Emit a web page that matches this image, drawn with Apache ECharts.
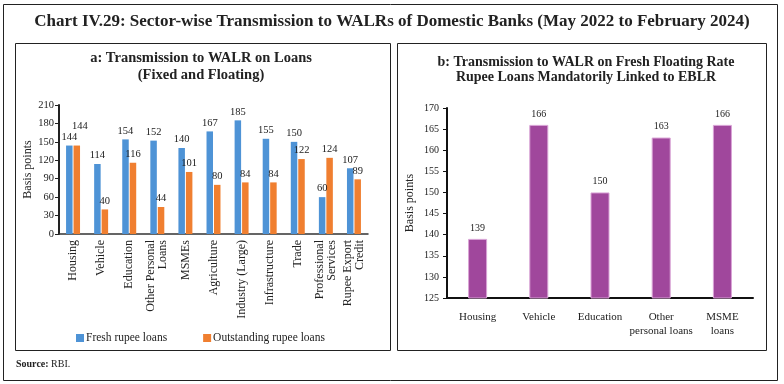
<!DOCTYPE html>
<html>
<head>
<meta charset="utf-8">
<script src="https://cdn.jsdelivr.net/npm/echarts@6/dist/echarts.min.js"></script>
<style>
html,body{margin:0;padding:0;background:#fff;}
#c{width:784px;height:384px;}
</style>
</head>
<body>
<div id="c"></div>
<script>
// ---- Data ----
const catsA = ['Housing','Vehicle','Education','Other Personal\nLoans','MSMEs','Agriculture','Industry (Large)','Infrastructure','Trade','Professional\nServices','Rupee Export\nCredit'];
const freshLoans = [144,114,154,152,140,167,185,155,150,60,107];
const outstandingLoans = [144,40,116,44,101,80,84,84,122,124,89];
const catsB = ['Housing','Vehicle','Education','Other\npersonal loans','MSME\nloans'];
const eblrLoans = [139,166,150,163,166];
const axisA = {min:0, max:210, interval:30};
const axisB = {min:125, max:170, interval:5};

const SERIF = '"Liberation Serif", "DejaVu Serif", serif';
const chart = echarts.init(document.getElementById('c'));
const txt = '#222';

// orange Housing label is lifted in the original to avoid overlapping the blue one
const outstandingData = outstandingLoans.map((v, i) => i === 0 ? {value: v, label: {offset: [3, -11]}} : v);

chart.setOption({
  backgroundColor:'#fff',
  animation:false,
  textStyle:{fontFamily:SERIF},
  graphic:[
    {type:'rect', shape:{x:3.5,y:4.5,width:774,height:376}, style:{fill:'none',stroke:'#222',lineWidth:1}},
    {type:'rect', shape:{x:15.5,y:43.5,width:375,height:307}, style:{fill:'none',stroke:'#222',lineWidth:1}},
    {type:'rect', shape:{x:397.5,y:43.5,width:369,height:307}, style:{fill:'none',stroke:'#222',lineWidth:1}},
    {type:'text', x:392, y:22, style:{text:'Chart IV.29: Sector-wise Transmission to WALRs of Domestic Banks (May 2022 to February 2024)', font:'bold 17px '+SERIF, fill:'#222', textAlign:'center', textVerticalAlign:'middle'}},
    {type:'text', x:201, y:58, style:{text:'a: Transmission to WALR on Loans', font:'bold 14.5px '+SERIF, fill:'#222', textAlign:'center', textVerticalAlign:'middle'}},
    {type:'text', x:201, y:75, style:{text:'(Fixed and Floating)', font:'bold 14.5px '+SERIF, fill:'#222', textAlign:'center', textVerticalAlign:'middle'}},
    {type:'text', x:586, y:62, style:{text:'b: Transmission to WALR on Fresh Floating Rate', font:'bold 14px '+SERIF, fill:'#222', textAlign:'center', textVerticalAlign:'middle'}},
    {type:'text', x:586, y:77, style:{text:'Rupee Loans Mandatorily Linked to EBLR', font:'bold 14px '+SERIF, fill:'#222', textAlign:'center', textVerticalAlign:'middle'}},
    {type:'text', x:16, y:364, style:{text:'{b|Source:} RBI.', rich:{b:{fontWeight:'bold',fontSize:10,fontFamily:SERIF,fill:'#222'}}, font:'10px '+SERIF, fill:'#222', textVerticalAlign:'middle'}}
  ],
  legend:{
    left:76, top:332, padding:0, itemWidth:8, itemHeight:8, itemGap:36, icon:'rect',
    textStyle:{fontFamily:SERIF, fontSize:11.5, color:txt, padding:[0,0,0,-3]},
    data:['Fresh rupee loans','Outstanding rupee loans']
  },
  grid:[
    {left:59, right:416, top:105, bottom:150},
    {left:447, right:31, top:108, bottom:86}
  ],
  xAxis:[
    {type:'category', gridIndex:0, data:catsA,
     axisLine:{lineStyle:{color:'#333',width:1.5}},
     axisTick:{length:4, lineStyle:{color:'#333'}},
     axisLabel:{rotate:90, interval:0, fontSize:12, color:txt, fontFamily:SERIF, margin:6, lineHeight:12}},
    {type:'category', gridIndex:1, data:catsB,
     axisLine:{lineStyle:{color:'#111',width:2}},
     axisTick:{length:4, lineStyle:{color:'#111'}},
     axisLabel:{interval:0, fontSize:11, color:txt, fontFamily:SERIF, margin:12, lineHeight:14}}
  ],
  yAxis:[
    {type:'value', gridIndex:0, min:axisA.min, max:axisA.max, interval:axisA.interval,
     name:'Basis points', nameLocation:'middle', nameGap:25, nameTextStyle:{fontSize:12,color:txt,fontFamily:SERIF},
     axisLine:{show:true, lineStyle:{color:'#222',width:2}},
     axisTick:{show:true, length:4, lineStyle:{color:'#222'}},
     splitLine:{show:false},
     axisLabel:{fontSize:10.5, color:txt, fontFamily:SERIF, margin:5}},
    {type:'value', gridIndex:1, min:axisB.min, max:axisB.max, interval:axisB.interval,
     name:'Basis points', nameLocation:'middle', nameGap:31, nameTextStyle:{fontSize:12,color:txt,fontFamily:SERIF},
     axisLine:{show:true, lineStyle:{color:'#111',width:2}},
     axisTick:{show:true, length:4, lineStyle:{color:'#111'}},
     splitLine:{show:false},
     axisLabel:{fontSize:10, color:txt, fontFamily:SERIF, margin:8}}
  ],
  series:[
    {name:'Fresh rupee loans', type:'bar', xAxisIndex:0, yAxisIndex:0, data:freshLoans,
     barWidth:6.5, barGap:'15%', itemStyle:{color:'#4E93D6'},
     label:{show:true, position:'top', distance:3, fontSize:10.5, color:txt, fontFamily:SERIF}},
    {name:'Outstanding rupee loans', type:'bar', xAxisIndex:0, yAxisIndex:0, data:outstandingData,
     barWidth:6.5, itemStyle:{color:'#F07F30'},
     label:{show:true, position:'top', distance:3, fontSize:10.5, color:txt, fontFamily:SERIF}},
    {name:'EBLR', type:'bar', xAxisIndex:1, yAxisIndex:1, data:eblrLoans,
     barWidth:19, itemStyle:{color:'#A0479C', borderColor:'#D9A3D6', borderWidth:1},
     label:{show:true, position:'top', distance:6, fontSize:10, color:txt, fontFamily:SERIF}}
  ]
});
</script>
</body>
</html>
